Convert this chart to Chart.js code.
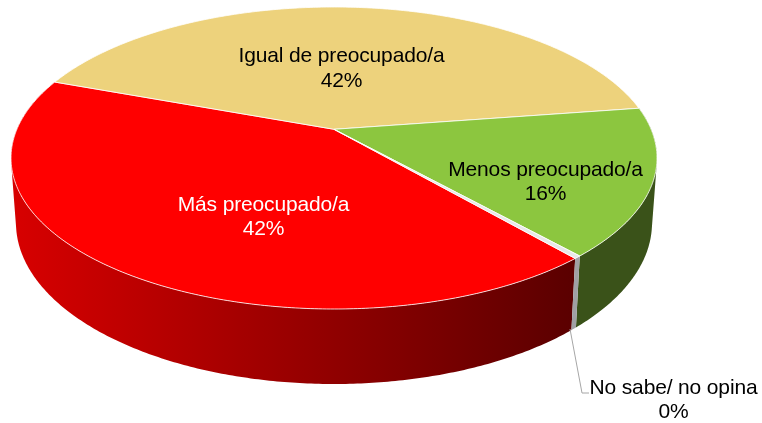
<!DOCTYPE html>
<html>
<head>
<meta charset="utf-8">
<style>html,body{margin:0;padding:0;background:#fff}canvas{display:block}</style>
<script src="https://cdn.jsdelivr.net/npm/chart.js@4/dist/chart.umd.min.js"></script>
</head>
<body>
<canvas id="c" width="762" height="423"></canvas>
<script>
const categories = ['Más preocupado/a', 'Igual de preocupado/a', 'Menos preocupado/a', 'No sabe/ no opina'];
const values = [41.9, 42.0, 15.8, 0.3];
const faceColors = ['#ff0000', '#edd27c', '#8cc63f', '#e8e8e8'];
const sideColors = ['red', '#ffffff00', '#3a5219', '#a0a0a4'];
const labelColors = ['#ffffff', '#000000', '#000000', '#000000'];
const labelCenters = [[263.5, 205], [341.5, 56.5], [545.5, 170], [673.5, 388]];
const leaderLine = [[570, 329], [582, 393], [589, 393]];

const TOP = {cx: 334, cy: 158, rx: 323, ry: 151};
const BOTTOM = {cx: 334, cy: 223, rx: 318, ry: 161};
const K = 0.19, S = Math.sqrt(1 - K * K);

function rim(e, a) {
  const u = Math.cos(a), v = -Math.sin(a), d = 1 + K * v;
  return [e.cx + e.rx * u * S / d, e.cy - e.ry * (v + K) / d];
}
function apex(e) { return [e.cx, e.cy - e.ry * K]; }

class Arc3D extends Chart.ArcElement {
  static id = 'arc3d';
  draw(ctx) {
    const {startAngle: a, endAngle: b} = this, o = this.options;
    const n = Math.max(2, Math.ceil((b - a) / 0.01));
    ctx.save();
    ctx.beginPath();
    ctx.moveTo(...apex(TOP));
    for (let i = 0; i <= n; i++) ctx.lineTo(...rim(TOP, a + (b - a) * i / n));
    ctx.closePath();
    ctx.fillStyle = o.backgroundColor;
    ctx.fill();
    ctx.lineWidth = o.borderWidth;
    ctx.strokeStyle = o.borderColor;
    ctx.lineJoin = 'round';
    ctx.stroke();
    ctx.restore();
  }
  drawWall(ctx, fill) {
    const {startAngle: a, endAngle: b} = this;
    const n = Math.max(2, Math.ceil((b - a) / 0.01));
    ctx.beginPath();
    for (let i = 0; i < n; i++) {
      const a0 = a + (b - a) * i / n, a1 = a + (b - a) * (i + 1) / n;
      let q = [rim(TOP, a0), rim(TOP, a1), rim(BOTTOM, a1), rim(BOTTOM, a0)];
      let area = 0;
      for (let j = 0; j < 4; j++) { const p = q[j], r = q[(j + 1) % 4]; area += p[0] * r[1] - r[0] * p[1]; }
      if (area < 0) q.reverse();
      ctx.moveTo(...q[0]); ctx.lineTo(...q[1]); ctx.lineTo(...q[2]); ctx.lineTo(...q[3]); ctx.closePath();
    }
    ctx.fillStyle = fill;
    ctx.fill('nonzero');
  }
}
class Pie3D extends Chart.PieController {
  static id = 'pie3d';
  static defaults = {dataElementType: 'arc3d'};
}
Chart.register(Arc3D, Pie3D);

const wallPlugin = {
  id: 'wall',
  beforeDatasetsDraw(chart) {
    const ctx = chart.ctx, els = chart.getDatasetMeta(0).data;
    const g = ctx.createLinearGradient(TOP.cx - TOP.rx, 0, 575, 0);
    g.addColorStop(0, '#d80000');
    g.addColorStop(1, '#5a0000');
    [1, 2, 0, 3].forEach(i => {
      const c = sideColors[i] === 'red' ? g : sideColors[i];
      els[i].drawWall(ctx, c);
    });
  }
};
const labelPlugin = {
  id: 'labels3d',
  afterDatasetsDraw(chart) {
    const ctx = chart.ctx;
    ctx.save();
    ctx.strokeStyle = '#a6a6a6';
    ctx.lineWidth = 1;
    ctx.beginPath();
    leaderLine.forEach((p, i) => i ? ctx.lineTo(...p) : ctx.moveTo(...p));
    ctx.stroke();
    ctx.font = '21px "Liberation Sans", Arial, sans-serif';
    ctx.letterSpacing = '-0.15px';
    ctx.textAlign = 'center';
    ctx.textBaseline = 'middle';
    categories.forEach((name, i) => {
      const [x, y] = labelCenters[i];
      ctx.fillStyle = labelColors[i];
      ctx.fillText(name, x, y);
      ctx.fillText(Math.round(values[i]) + '%', x, y + 24.5);
    });
    ctx.restore();
  }
};

new Chart(document.getElementById('c'), {
  type: 'pie3d',
  data: {
    labels: categories,
    datasets: [{
      data: values,
      backgroundColor: faceColors,
      borderColor: 'rgba(255,255,255,0.8)',
      borderWidth: 1
    }]
  },
  options: {
    responsive: false,
    animation: false,
    rotation: 139.4,
    plugins: {legend: {display: false}, tooltip: {enabled: false}}
  },
  plugins: [wallPlugin, labelPlugin]
});
</script>
</body>
</html>
